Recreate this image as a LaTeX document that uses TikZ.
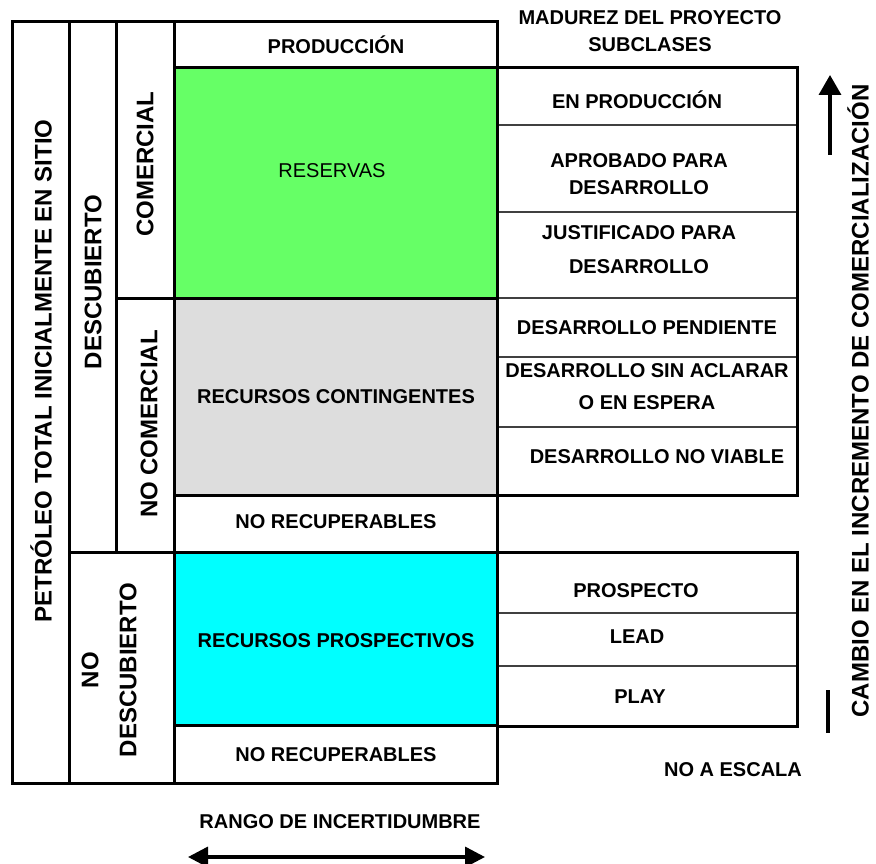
\documentclass[tikz,border=0pt]{standalone}
\usepackage{fontspec}
\setmainfont{Liberation Sans}
\usetikzlibrary{arrows.meta}
\definecolor{resgreen}{RGB}{102,255,102}
\definecolor{congray}{RGB}{221,221,221}
\definecolor{procyan}{RGB}{0,255,255}
\begin{document}
\begin{tikzpicture}[x=1pt, y=-1pt,
  thick line/.style={line width=3pt, line cap=rect},
  thin line/.style={line width=1.5pt, draw=black!75},
  lbl/.style={font=\fontsize{20}{27}\selectfont\bfseries, align=center, inner sep=0pt},
  vlbl/.style={font=\fontsize{24}{38}\selectfont\bfseries, align=center, rotate=90, inner sep=0pt}]
\useasboundingbox (0,0) rectangle (876,864);
% coloured classes
\fill[resgreen] (174,68) rectangle (497,298);
\fill[congray] (174,298) rectangle (497,495);
\fill[procyan] (174,552) rectangle (497,725);
% left frame
\draw[thick line] (12,22) rectangle (497,783);
\draw[thick line] (69,22) -- (69,783);
\draw[thick line] (116,22) -- (116,552);
\draw[thick line] (174,22) -- (174,783);
\draw[thick line] (174,68) -- (497,68);
\draw[thick line] (116,298) -- (497,298);
\draw[thick line] (174,495) -- (497,495);
\draw[thick line] (69,552) -- (497,552);
\draw[thick line] (174,725) -- (497,725);
% subclasses
\draw[thin line] (497,125) -- (797,125);
\draw[thin line] (497,212) -- (797,212);
\draw[thin line] (497,298) -- (797,298);
\draw[thin line] (497,357) -- (797,357);
\draw[thin line] (497,427) -- (797,427);
\draw[thick line] (497,68) rectangle (797,495);
\draw[thin line] (497,613) -- (797,613);
\draw[thin line] (497,666) -- (797,666);
\draw[thick line] (497,552) rectangle (797,726);
% labels
\node[lbl] (prod) at (336,45) {PRODUCCIÓN};
\node[lbl, font=\fontsize{20}{24}\selectfont] (reservas) at (332,171) {RESERVAS};
\node[lbl] (contingentes) at (336,397) {RECURSOS CONTINGENTES};
\node[lbl] (norec1) at (336,522) {NO RECUPERABLES};
\node[lbl] (prospectivos) at (336,641) {RECURSOS PROSPECTIVOS};
\node[lbl] (norec2) at (336,755) {NO RECUPERABLES};
\node[lbl] (madurez) at (650,31) {MADUREZ DEL PROYECTO\\SUBCLASES};
\node[lbl] (enprod) at (637,100) {EN PRODUCCIÓN};
\node[lbl] (aprobado) at (639,174) {APROBADO PARA\\DESARROLLO};
\node[lbl, font=\fontsize{20}{34}\selectfont\bfseries] (justificado) at (639,250) {JUSTIFICADO PARA\\DESARROLLO};
\node[lbl] (pendiente) at (647,328) {DESARROLLO PENDIENTE};
\node[lbl, font=\fontsize{20}{32}\selectfont\bfseries] (sinaclarar) at (647,387) {DESARROLLO SIN ACLARAR\\O EN ESPERA};
\node[lbl] (noviable) at (657,457) {DESARROLLO NO VIABLE};
\node[lbl] (prospecto) at (636,591) {PROSPECTO};
\node[lbl] (lead) at (637,637) {LEAD};
\node[lbl] (play) at (640,697) {PLAY};
\node[lbl] (noescala) at (733,770) {NO A ESCALA};
\node[lbl] (rango) at (340,822) {RANGO DE INCERTIDUMBRE};
\node[vlbl] (petroleo) at (41,371) {PETRÓLEO TOTAL INICIALMENTE EN SITIO};
\node[vlbl] (descubierto) at (93,282) {DESCUBIERTO};
\node[vlbl] (comercial) at (145,164) {COMERCIAL};
\node[vlbl] (nocomercial) at (149,424) {NO COMERCIAL};
\node[vlbl] (nodescubierto) at (109,670) {NO\\DESCUBIERTO};
\node[vlbl] (cambio) at (858,401) {CAMBIO EN EL INCREMENTO DE COMERCIALIZACIÓN};
% arrows
\coordinate (arrbot) at (830,155);
\coordinate (arrtop) at (830,75);
\draw[line width=3.5pt, -{Triangle[length=20pt,width=22pt]}] (arrbot) -- (arrtop);
\coordinate (bartop) at (828,690);
\coordinate (barbot) at (828,733);
\draw[line width=3.5pt] (bartop) -- (barbot);
\coordinate (rangoL) at (188,857);
\coordinate (rangoR) at (485,857);
\draw[line width=3.5pt, {Triangle[length=20pt,width=20pt]}-{Triangle[length=20pt,width=20pt]}] (rangoL) -- (rangoR);
\end{tikzpicture}
\end{document}
